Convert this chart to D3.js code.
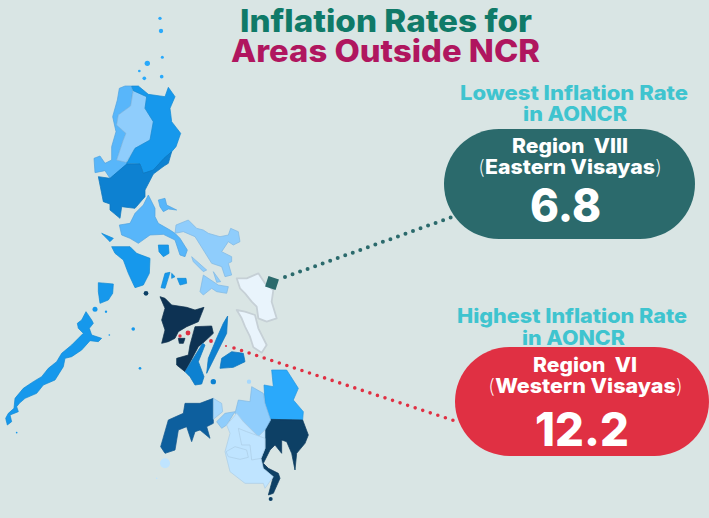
<!DOCTYPE html>
<html>
<head>
<meta charset="utf-8">
<script src="https://cdn.jsdelivr.net/npm/d3@7"></script>
<style>
	html, body { margin: 0; padding: 0; background: #d9e5e4; }
	svg { display: block; }
	text { font-family: Inter, "DejaVu Sans", sans-serif; white-space: pre; }
</style>
</head>
<body>
<svg id="chart" width="709" height="518"></svg>
<script>
// Rate shades, palest is the lowest region
var shadeNames = ["low", "pale", "sky", "light", "mid", "bright", "blue", "strong", "deep", "navy", "ink"];
var shadeColors = ["#e9f4fc", "#bfe4ff", "#a6d8fd", "#8fcdfc", "#58b6fa", "#29a9fb", "#1598ec", "#0981d1", "#0d5f9e", "#0a3f65", "#0b3252"];

// Traced outlines, each one is read in the units of a sheet of the map
var sheets = {
	north: { x: 90, y: 0, k: 3 },
	bicol: { x: 100, y: 195, k: 3 },
	centre: { x: 130, y: 230, k: 3 },
	west: { x: 0, y: 270, k: 3 },
	south: { x: 150, y: 370, k: 3 }
};

var regionNames = ["Ilocos", "CAR", "Cagayan Valley", "Central Luzon", "Calabarzon", "Bicol", "Polillo", "Burias", "Masbate", "Ticao",
	"Mindoro", "Marinduque", "Lubang", "Tablas", "Sibuyan", "Romblon", "Busuanga", "Palawan",
	"Eastern Visayas", "Leyte", "Panay", "Guimaras", "Negros Occidental", "Negros Oriental", "Cebu", "Bohol",
	"Caraga", "Davao", "Zamboanga", "Misamis Occidental", "Northern Mindanao", "Lanao", "Soccsksargen", "Maguindanao", "Cotabato"];
var regionSheets = ["north", "north", "north", "north", "bicol", "bicol", "bicol", "bicol", "bicol", "bicol",
	"bicol", "bicol", "bicol", "bicol", "bicol", "bicol", "west", "west",
	"centre", "centre", "centre", "centre", "centre", "centre", "centre", "centre",
	"south", "south", "south", "south", "south", "south", "south", "south", "south"];
var regionShades = ["mid", "light", "blue", "strong", "mid", "light", "mid", "light", "light", "light",
	"blue", "blue", "blue", "blue", "blue", "blue", "blue", "blue",
	"low", "low", "ink", "ink", "ink", "strong", "strong", "strong",
	"bright", "navy", "deep", "sky", "light", "light", "pale", "pale", "pale"];
var regionOutlines = [
	[[88,265],[105,258],[125,258],[128,275],[122,318],[85,345],[80,375],[108,400],[100,420],[80,480],[115,488],[110,495],[85,515],[60,535],[45,512],[15,518],[12,475],[30,468],[45,490],[65,480],[65,440],[78,395],[68,350],[82,300]],
	[[130,272],[170,290],[165,325],[190,365],[180,420],[135,445],[108,487],[80,480],[100,420],[108,400],[80,375],[85,345],[122,318]],
	[[125,258],[145,258],[175,283],[225,290],[235,262],[255,290],[240,325],[245,365],[272,400],[258,440],[245,455],[225,478],[190,518],[160,520],[150,492],[110,490],[135,445],[180,420],[190,365],[165,325],[170,290],[130,272]],
	[[110,492],[150,492],[160,520],[190,510],[222,475],[245,455],[235,490],[222,498],[190,522],[165,570],[165,590],[135,625],[95,620],[90,655],[60,630],[60,612],[40,605],[25,530],[60,535]],
	[[145,0],[165,40],[165,65],[175,85],[210,105],[225,115],[240,130],[262,165],[255,185],[240,180],[225,135],[190,118],[150,120],[115,145],[90,130],[65,120],[58,90],[90,85],[105,55],[130,30]],
	[[228,90],[265,75],[290,100],[310,105],[325,115],[360,125],[385,120],[392,100],[415,110],[420,140],[400,150],[385,140],[365,170],[395,185],[395,200],[385,205],[395,240],[375,245],[365,215],[335,205],[310,165],[285,125],[250,110],[225,115]],
	[[175,15],[195,10],[200,30],[230,45],[205,42],[190,50],[180,35]],
	[[275,185],[320,225],[310,230],[280,200]],
	[[310,240],[355,270],[385,275],[380,295],[350,290],[335,280],[310,300],[300,290]],
	[[340,230],[362,260],[350,262]],
	[[35,155],[90,155],[110,175],[150,190],[148,235],[130,270],[105,278],[85,235],[70,195],[45,175]],
	[[175,150],[205,150],[207,175],[190,185],[177,170]],
	[[5,115],[40,130],[30,140]],
	[[195,235],[210,232],[195,280],[183,278]],
	[[215,235],[225,245],[215,250]],
	[[232,250],[258,250],[260,265],[240,270]],
	[[295,38],[340,42],[338,70],[325,90],[300,100],[295,65]],
	[[258,125],[275,150],[280,160],[268,175],[275,195],[305,205],[295,215],[270,212],[245,240],[215,260],[195,265],[190,290],[165,330],[130,345],[110,370],[75,385],[58,400],[50,410],[55,425],[30,435],[35,455],[22,465],[17,445],[25,430],[42,415],[45,385],[70,355],[100,335],[125,320],[145,295],[170,275],[185,250],[215,225],[235,205],[250,190],[235,175],[232,160],[245,150]],
	[[320,145],[350,145],[385,130],[405,160],[430,180],[425,215],[440,265],[410,275],[385,265],[380,230],[365,215],[345,190],[330,175]],
	[[320,240],[345,245],[375,255],[385,295],[410,345],[395,368],[370,352],[360,320],[345,290],[335,265]],
	[[90,200],[105,205],[125,225],[170,232],[195,240],[222,232],[215,250],[205,275],[170,290],[145,305],[135,325],[115,335],[95,340],[105,300],[95,270],[105,235]],
	[[145,325],[165,325],[160,340],[148,340]],
	[[195,290],[245,288],[250,310],[218,340],[205,350],[165,425],[140,405],[140,385],[175,375],[180,345]],
	[[218,340],[225,345],[205,395],[222,440],[215,462],[195,465],[180,440],[165,425]],
	[[293,258],[290,310],[265,360],[230,430],[235,385],[262,320],[280,280]],
	[[305,365],[340,370],[345,395],[310,412],[270,415],[275,385]],
	[[365,0],[410,0],[445,55],[430,90],[460,125],[458,150],[360,148],[345,100],[342,45],[370,50]],
	[[360,148],[458,150],[475,195],[465,220],[440,250],[435,300],[425,250],[410,215],[395,210],[395,250],[375,225],[360,240],[350,260],[340,280],[355,295],[385,310],[390,325],[370,370],[355,375],[370,320],[340,295],[333,265],[345,235],[345,180]],
	[[190,85],[190,160],[170,170],[180,205],[150,180],[135,185],[125,215],[110,170],[85,180],[75,240],[45,250],[32,230],[55,150],[100,130],[105,100],[150,100]],
	[[190,85],[215,100],[218,125],[190,148]],
	[[305,50],[340,70],[345,100],[362,150],[345,180],[325,200],[280,155],[255,130],[265,90],[300,95]],
	[[200,155],[225,130],[255,125],[230,165],[215,175]],
	[[260,130],[280,155],[325,200],[345,180],[345,235],[333,265],[340,295],[370,320],[345,355],[340,340],[285,340],[240,305],[225,245],[240,190],[230,165]],
	[[228,245],[255,230],[290,240],[295,262],[270,268],[235,260]],
	[[265,175],[290,185],[345,205],[345,235],[333,265],[305,270],[300,225],[275,225]]
];

// Small islands: sheet, x, y, size, shade
var isletSheets = ["north", "north", "north", "north", "north", "north", "north",
	"centre", "centre", "centre", "centre", "west", "west", "west", "west", "west", "west", "south", "south", "south"];
var isletX = [210, 213, 172, 148, 163, 215, 217,
	250, 357, 48, 8,
	400, 420, 328, 318, 50, 285, 45, 362, 20];
var isletY = [55, 93, 190, 213, 235, 230, 172,
	455, 455, 190, 297,
	177, 295, 195, 125, 488, 118, 280, 387, 325];
var isletSizes = [10, 13, 16, 8, 11, 11, 9,
	16, 13, 14, 7,
	10, 8, 5, 7, 5, 15, 30, 12, 5];
var isletShades = ["bright", "bright", "bright", "bright", "bright", "bright", "bright",
	"strong", "sky", "navy", "blue",
	"blue", "blue", "blue", "blue", "blue", "blue", "pale", "navy", "pale"];

// Call-outs
var calloutHeads = ["Lowest Inflation Rate", "Highest Inflation Rate"];
var calloutSubs = ["in AONCR", "in AONCR"];
var calloutRegions = ["Region  VIII", "Region  VI"];
var calloutNames = ["Eastern Visayas", "Western Visayas"];
var calloutRates = ["6.8", "12.2"];

var svg = d3.select("#chart");
var shade = d3.scaleOrdinal().domain(shadeNames).range(shadeColors);

// One pair of scales per sheet, the sheets are 3x enlargements of the page
function sheetScales(name) {
	var s = sheets[name];
	return {
		x: d3.scaleLinear().domain([0, 709 * s.k]).range([s.x, s.x + 709]),
		y: d3.scaleLinear().domain([0, 518 * s.k]).range([s.y, s.y + 518])
	};
}

var blur = svg.append("defs").append("filter").attr("id", "soft");
blur.append("feGaussianBlur").attr("stdDeviation", 0.5);

var map = svg.append("g").attr("filter", "url(#soft)");

// Samar and Leyte have a grey coast in the picture
map.selectAll("path.region")
	.data(regionOutlines)
	.enter().append("path")
	.attr("class", "region")
	.attr("d", function(d, i) {
		var sc = sheetScales(regionSheets[i]);
		return d3.line().x(function(p) { return sc.x(p[0]); }).y(function(p) { return sc.y(p[1]); })
			.curve(d3.curveLinearClosed)(d);
	})
	.attr("fill", function(d, i) { return shade(regionShades[i]); })
	.attr("stroke", function(d, i) {
		return regionShades[i] == "low" ? "#c6d0d6" : d3.color(shade(regionShades[i])).darker(0.3);
	})
	.attr("stroke-width", function(d, i) { return regionShades[i] == "low" ? 1.8 : 0.7; })
	.attr("stroke-linejoin", "round");

map.selectAll("circle.islet")
	.data(isletX)
	.enter().append("circle")
	.attr("class", "islet")
	.attr("cx", function(d, i) { return sheetScales(isletSheets[i]).x(d); })
	.attr("cy", function(d, i) { return sheetScales(isletSheets[i]).y(isletY[i]); })
	.attr("r", function(d, i) { return isletSizes[i] / 6; })
	.attr("fill", function(d, i) { return shade(isletShades[i]); });

// Leader lines, round caps on a zero dash give the dots
svg.append("line")
	.attr("x1", 285).attr("y1", 277).attr("x2", 452).attr("y2", 217)
	.attr("stroke", "#2b6a6c").attr("stroke-width", 4)
	.attr("stroke-linecap", "round").attr("stroke-dasharray", "0 8");
svg.append("rect")
	.attr("x", -5.5).attr("y", -5.5).attr("width", 11).attr("height", 11)
	.attr("transform", "translate(272,283) rotate(18)")
	.attr("fill", "#2b6a6c");

svg.append("line")
	.attr("x1", 234).attr("y1", 348).attr("x2", 455).attr("y2", 421)
	.attr("stroke", "#e03043").attr("stroke-width", 3.6)
	.attr("stroke-linecap", "round").attr("stroke-dasharray", "0 7.95");
svg.selectAll("circle.stub")
	.data([[180, 336, 1.7], [188, 333, 2.4], [211, 341, 1.9], [226, 346, 1]])
	.enter().append("circle")
	.attr("class", "stub")
	.attr("cx", function(d) { return d[0]; })
	.attr("cy", function(d) { return d[1]; })
	.attr("r", function(d) { return d[2]; })
	.attr("fill", "#e03043");

// Text helper: the width is fitted to what the picture shows
function label(str, x1, x2, base, size, weight, color) {
	return svg.append("text")
		.attr("x", x1).attr("y", base)
		.attr("textLength", x2 - x1).attr("lengthAdjust", "spacingAndGlyphs")
		.attr("xml:space", "preserve")
		.attr("font-size", size).attr("font-weight", weight)
		.attr("fill", color)
		.text(str);
}

// The brackets round the region name are set in a thin weight
function bracketLabel(str, x1, x2, base, size, color) {
	var t = label("", x1, x2, base, size, 800, color);
	t.append("tspan").attr("font-weight", 200).text("(");
	t.append("tspan").text(str);
	t.append("tspan").attr("font-weight", 200).text(")");
}

label("Inflation Rates for", 240, 532, 32, 31, 800, "#0f7a68");
label("Areas Outside NCR", 231, 540, 62, 31, 800, "#b0165f");

svg.append("rect").attr("x", 444).attr("y", 129).attr("width", 251).attr("height", 110).attr("rx", 55).attr("fill", "#2b6a6c");
svg.append("rect").attr("x", 455).attr("y", 347).attr("width", 254).attr("height", 109).attr("rx", 54.5).attr("fill", "#e03043");

label(calloutHeads[0], 460, 688, 100, 20, 800, "#3fc4cf");
label(calloutSubs[0], 523, 627, 121, 20, 800, "#3fc4cf");
label(calloutRegions[0], 512, 628, 153, 19.5, 800, "#ffffff");
bracketLabel(calloutNames[0], 478, 662, 174, 19.5, "#ffffff");
label(calloutRates[0], 530, 601, 222, 46, 800, "#ffffff");

label(calloutHeads[1], 457, 687, 323, 20, 800, "#3fc4cf");
label(calloutSubs[1], 522, 625, 345, 20, 800, "#3fc4cf");
label(calloutRegions[1], 533, 637, 372, 19.5, 800, "#ffffff");
bracketLabel(calloutNames[1], 488, 683, 393, 19.5, "#ffffff");
label(calloutRates[1], 535, 629, 446, 46, 800, "#ffffff");
</script>
</body>
</html>
